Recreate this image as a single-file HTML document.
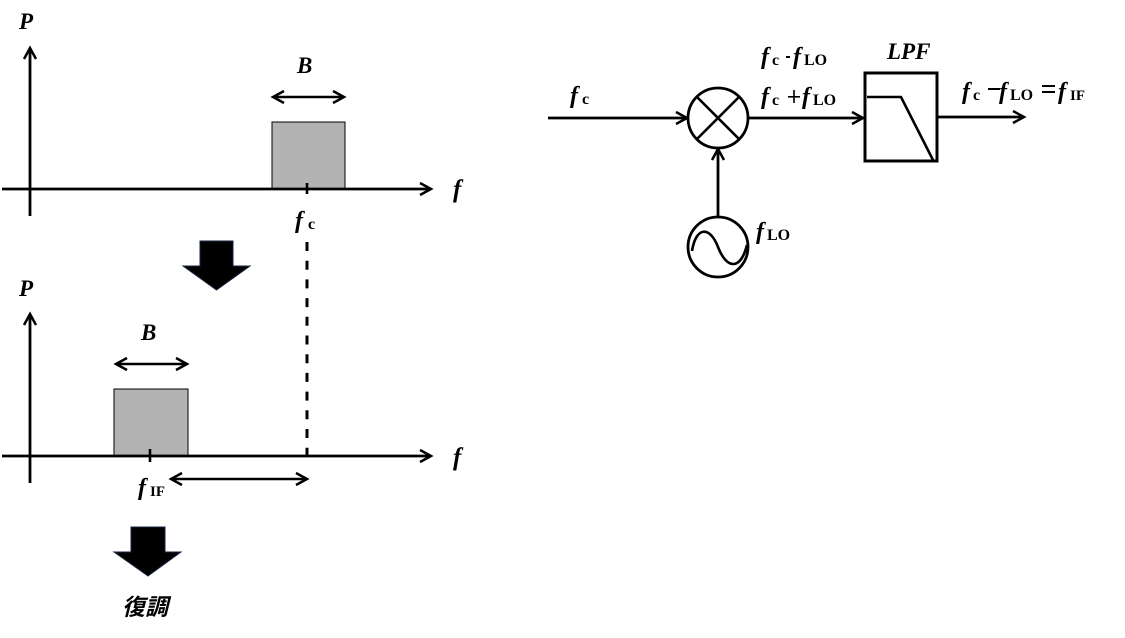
<!DOCTYPE html>
<html>
<head>
<meta charset="utf-8">
<style>
html,body{margin:0;padding:0;background:#fff;}
body{width:1125px;height:638px;overflow:hidden;}
svg{display:block;}
.bi{font-family:"Liberation Serif",serif;font-weight:bold;font-style:italic;fill:#000;}
.b{font-family:"Liberation Serif",serif;font-weight:bold;fill:#000;}
.r{font-family:"Liberation Serif",serif;fill:#000;}
.ln{stroke:#000;stroke-width:2.8;fill:none;}
.ah{stroke:#000;stroke-width:2.5;fill:none;stroke-linejoin:miter;stroke-linecap:butt;}
</style>
</head>
<body>
<svg width="1125" height="638" viewBox="0 0 1125 638" xmlns="http://www.w3.org/2000/svg">
  <!-- ===== Top spectrum ===== -->
  <text class="bi" x="19" y="29" font-size="23">P</text>
  <line class="ln" x1="30" y1="216" x2="30" y2="48"/>
  <polyline class="ah" points="24,59 30,48 36,59"/>
  <rect x="272" y="122" width="73" height="67" fill="#b3b3b3" stroke="#000" stroke-width="1"/>
  <line class="ln" x1="2" y1="189" x2="431" y2="189"/>
  <polyline class="ah" points="420,183 431,189 420,195"/>
  <line x1="307" y1="183" x2="307" y2="194" stroke="#000" stroke-width="2.6"/>
  <line class="ah" x1="273" y1="97" x2="344" y2="97"/>
  <polyline class="ah" points="284,91 273,97 284,103"/>
  <polyline class="ah" points="333,91 344,97 333,103"/>
  <text class="bi" x="297" y="73" font-size="23">B</text>
  <text class="bi" x="453" y="197" font-size="25">f</text>
  <text class="bi" x="295" y="228" font-size="24">f</text>
  <text class="b" x="308" y="229" font-size="16">c</text>
  <line x1="307" y1="242" x2="307" y2="456" stroke="#000" stroke-width="3" stroke-dasharray="9 9.7"/>

  <!-- Down arrow 1 -->
  <polygon points="200,241 233,241 233,266 250,266 216.5,290 183,266 200,266" fill="#000" stroke="#1a2440" stroke-width="1"/>

  <!-- ===== Bottom spectrum ===== -->
  <text class="bi" x="19" y="296" font-size="23">P</text>
  <line class="ln" x1="30" y1="483" x2="30" y2="314"/>
  <polyline class="ah" points="24,325 30,314 36,325"/>
  <rect x="114" y="389" width="74" height="67" fill="#b3b3b3" stroke="#000" stroke-width="1"/>
  <line class="ln" x1="2" y1="456" x2="431" y2="456"/>
  <polyline class="ah" points="420,450 431,456 420,462"/>
  <line x1="150" y1="449" x2="150" y2="462" stroke="#000" stroke-width="2.6"/>
  <line class="ah" x1="116" y1="364" x2="187" y2="364"/>
  <polyline class="ah" points="127,358 116,364 127,370"/>
  <polyline class="ah" points="176,358 187,364 176,370"/>
  <text class="bi" x="141" y="340" font-size="23">B</text>
  <text class="bi" x="453" y="465" font-size="25">f</text>
  <text class="bi" x="138" y="495" font-size="24">f</text>
  <text class="b" x="150" y="496" font-size="15">IF</text>
  <line class="ah" x1="171" y1="479" x2="307" y2="479"/>
  <polyline class="ah" points="182,473 171,479 182,485"/>
  <polyline class="ah" points="296,473 307,479 296,485"/>

  <!-- Down arrow 2 -->
  <polygon points="131,527 165,527 165,552 181,552 148,576 114,552 131,552" fill="#000" stroke="#1a2440" stroke-width="1"/>
  <text x="122" y="615" font-size="23" font-style="italic" font-weight="bold" font-family="'Liberation Sans','Noto Sans CJK JP',sans-serif" fill="#000">復調</text>

  <!-- ===== Block diagram ===== -->
  <line class="ln" x1="548" y1="118" x2="687" y2="118"/>
  <polyline class="ah" points="676,112 687,118 676,124"/>
  <text class="bi" x="570" y="103" font-size="24">f</text>
  <text class="b" x="582" y="104" font-size="16">c</text>

  <circle cx="718" cy="118" r="30" fill="#fff" stroke="#000" stroke-width="2.8"/>
  <line x1="697" y1="97" x2="739" y2="139" stroke="#000" stroke-width="2.6"/>
  <line x1="739" y1="97" x2="697" y2="139" stroke="#000" stroke-width="2.6"/>

  <line class="ln" x1="748" y1="118" x2="863" y2="118"/>
  <polyline class="ah" points="852,112 863,118 852,124"/>

  <text class="bi" x="761" y="64" font-size="24">f</text>
  <text class="b" x="772" y="65" font-size="16">c</text>
  <rect x="786" y="56" width="4" height="2" fill="#000"/>
  <text class="bi" x="793" y="64" font-size="24">f</text>
  <text class="b" x="804" y="65" font-size="16">LO</text>

  <text class="bi" x="761" y="104" font-size="24">f</text>
  <text class="b" x="772" y="105" font-size="16">c</text>
  <rect x="788" y="96" width="12" height="1.6" fill="#000"/>
  <rect x="793.2" y="90" width="1.6" height="13" fill="#000"/>
  <text class="bi" x="802" y="104" font-size="24">f</text>
  <text class="b" x="813" y="105" font-size="16">LO</text>

  <line class="ln" x1="718" y1="217" x2="718" y2="149"/>
  <polyline class="ah" points="712,160 718,149 724,160"/>
  <circle cx="718" cy="247" r="30" fill="#fff" stroke="#000" stroke-width="2.8"/>
  <path d="M692,251 C696,226 710,226 718,247 S740,272 747,245" fill="none" stroke="#000" stroke-width="2.6"/>
  <text class="bi" x="756" y="239" font-size="24">f</text>
  <text class="b" x="767" y="240" font-size="16">LO</text>

  <rect x="865" y="73" width="72" height="88" fill="#fff" stroke="#000" stroke-width="3"/>
  <polyline points="867,97 901,97 933,160" fill="none" stroke="#000" stroke-width="2.6"/>
  <text class="bi" x="887" y="59" font-size="23">LPF</text>

  <line class="ln" x1="938" y1="117" x2="1024" y2="117"/>
  <polyline class="ah" points="1013,111 1024,117 1013,123"/>

  <text class="bi" x="962" y="99" font-size="24">f</text>
  <text class="b" x="973" y="100" font-size="16">c</text>
  <rect x="988" y="88" width="12" height="2" fill="#000"/>
  <text class="bi" x="999" y="99" font-size="24">f</text>
  <text class="b" x="1010" y="100" font-size="16">LO</text>
  <rect x="1042" y="85" width="13" height="2" fill="#000"/>
  <rect x="1042" y="91" width="13" height="2" fill="#000"/>
  <text class="bi" x="1058" y="99" font-size="24">f</text>
  <text class="b" x="1070" y="100" font-size="15">IF</text>
</svg>
</body>
</html>
